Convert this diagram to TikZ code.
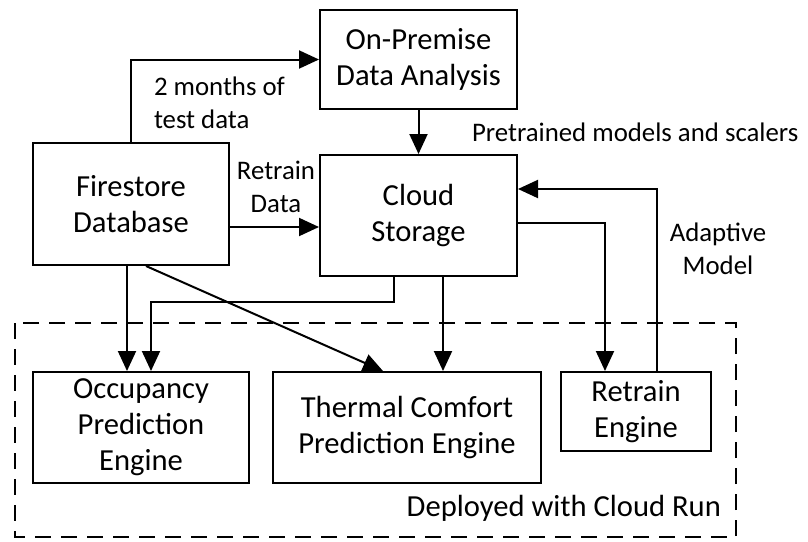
\documentclass[tikz,border=0pt]{standalone}
\usepackage{fontspec}
\setmainfont{Carlito}
\usetikzlibrary{positioning,calc,arrows.meta}
\tikzset{>={Triangle[length=10pt,width=9pt]}}
\tikzset{box/.style={draw,line width=1pt,align=center,inner sep=0pt,font=\fontsize{15.3}{18}\selectfont},
  lbl/.style={font=\fontsize{13.4}{16.5}\selectfont,inner sep=0pt}}

\begin{document}
\begin{tikzpicture}[x=.5pt,y=-.5pt,line width=1pt]
\useasboundingbox (0,0) rectangle (808,541);
\node[box,minimum width=98.5pt,minimum height=49.5pt] (onprem) at (418.5,59.5) {On-Premise\\Data Analysis};
\node[box,minimum width=98pt,minimum height=61pt] (fire) at (131,204) {Firestore\\Database};
\node[box,minimum width=98.5pt,minimum height=60.5pt] (cloud) at (418.5,215.5) {Cloud\\Storage};
\node[box,minimum width=108pt,minimum height=55.5pt] (occ) at (141,427.5) {Occupancy\\Prediction\\Engine};
\node[box,minimum width=134pt,minimum height=55.5pt] (therm) at (407,427.5) {Thermal Comfort\\Prediction Engine};
\node[box,minimum width=75pt,minimum height=39.5pt] (retrain) at (636,411.5) {Retrain\\Engine};
% labels
\node[lbl,anchor=west,align=left] (months) at (153,103) {2 months of\\test data};
\node[lbl,align=center] (retraindata) at (276,187) {Retrain\\Data};
\node[lbl,anchor=west] (pretrained) at (471,132) {Pretrained models and scalers};
\node[lbl,align=center] (adaptive) at (718,249) {Adaptive\\Model};
\node[box,draw=none,anchor=east] (cloudrun) at (722,508) {Deployed with Cloud Run};
% Cloud Run area
\draw[dash pattern=on 8pt off 5pt] (15,323) rectangle (736,537);
% connectors
\draw[->] (fire.north) |- (onprem.west);
\draw[->] (onprem) -- (cloud);
\draw[->] ([yshift=-11.5pt]fire.east) -- ([yshift=-11.5pt]fire.east -| cloud.west);
\draw[->] ([xshift=-2pt]fire.south) -- ([xshift=-2pt]fire.south |- occ.north);
\draw[->] ([xshift=-12.25pt]cloud.south) -- ++(0,-12.5pt) -| ([xshift=5pt]occ.north);
\draw[->] ([xshift=7.5pt]fire.south) -- ([xshift=-12pt]therm.north);
\draw[->] ([xshift=12.25pt]cloud.south) -- ([xshift=12.25pt]cloud.south |- therm.north);
\draw[->] ([yshift=-3.75pt]cloud.east) -| ([xshift=-15.5pt]retrain.north);
\draw[->] ([xshift=10.5pt]retrain.north) |- ([yshift=13.25pt]cloud.east);
\end{tikzpicture}
\end{document}
